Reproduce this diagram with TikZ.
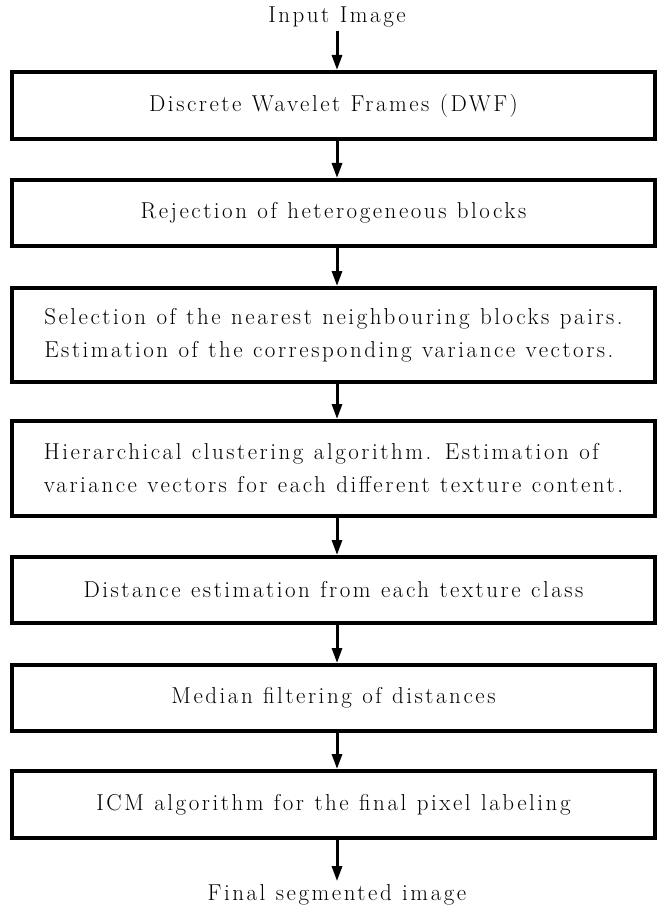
\documentclass[tikz,border=0pt]{standalone}
\usepackage{fontspec}
\setmainfont{Latin Modern Roman}[LetterSpace=11, WordSpace=1.1]
\usetikzlibrary{arrows.meta}
\begin{document}
\begin{tikzpicture}[x=1pt,y=-1pt,
  every node/.style={font=\fontsize{23}{33}\selectfont},
  stagebox/.style={draw, line width=4pt, minimum width=643pt, inner sep=0pt},
  twoline/.style={align=left},
  flow/.style={line width=3pt, -{Triangle[length=15pt,width=10pt]}}]
\useasboundingbox (0,0) rectangle (667,912);
\node (in) at (337,17) {Input Image};
\node[stagebox, minimum height=67pt] (b1) at (333.5,105.5) {Discrete Wavelet Frames (DWF)};
\node[stagebox, minimum height=66pt] (b2) at (333.5,213) {Rejection of heterogeneous blocks};
\node[stagebox, minimum height=94pt, twoline] (b3) at (333.5,335) {Selection of the nearest neighbouring blocks pairs.\\Estimation of the corresponding variance vectors.};
\node[stagebox, minimum height=95pt, twoline] (b4) at (333.5,468.5) {Hierarchical clustering algorithm. Estimation of\\variance vectors for each different texture content.};
\node[stagebox, minimum height=66pt] (b5) at (333.5,590) {Distance estimation from each texture class};
\node[stagebox, minimum height=66pt] (b6) at (333.5,698) {Median filtering of distances};
\node[stagebox, minimum height=67pt] (b7) at (333.5,804.5) {ICM algorithm for the final pixel labeling};
\node (out) at (337,895) {Final segmented image};
\draw[flow] (in) -- (in |- b1.north);
\draw[flow] (b1.south -| in) -- (b2.north -| in);
\draw[flow] (b2.south -| in) -- (b3.north -| in);
\draw[flow] (b3.south -| in) -- (b4.north -| in);
\draw[flow] (b4.south -| in) -- (b5.north -| in);
\draw[flow] (b5.south -| in) -- (b6.north -| in);
\draw[flow] (b6.south -| in) -- (b7.north -| in);
\draw[flow] (b7.south -| in) -- (out);
\end{tikzpicture}
\end{document}
